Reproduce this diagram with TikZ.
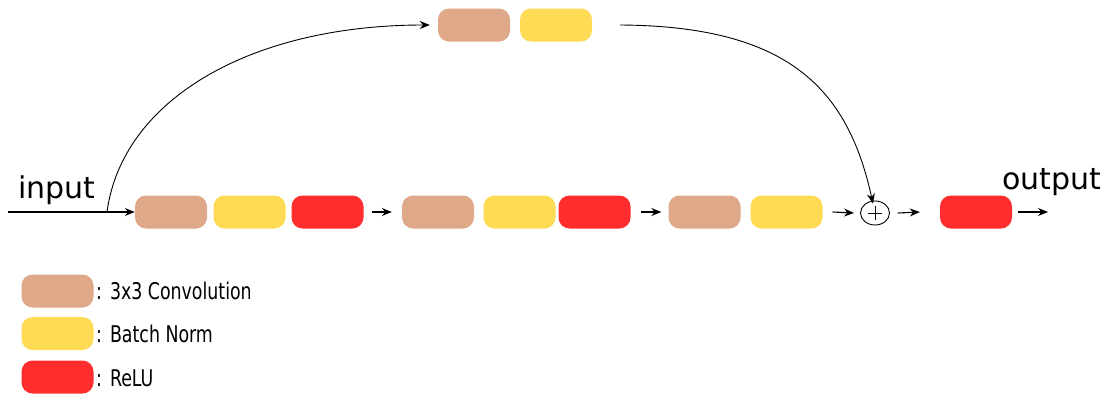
\documentclass[tikz,border=0pt]{standalone}
\usepackage{fontspec}
\setmainfont{DejaVu Sans}
\newfontfamily\legfont[FakeStretch=0.84]{DejaVu Sans Condensed}
\usetikzlibrary{arrows.meta,shapes.geometric}
\definecolor{conv}{RGB}{222,168,137}
\definecolor{bn}{RGB}{255,219,85}
\definecolor{relu}{RGB}{255,45,45}
\tikzset{
  blk/.style={rounded corners=11pt,minimum width=72pt,minimum height=33pt,inner sep=0pt},
  convb/.style={blk,fill=conv},
  bnb/.style={blk,fill=bn},
  relub/.style={blk,fill=relu},
  arr/.style={-{Stealth[length=10pt,width=8pt]},line width=1.1pt,black},
  curv/.style={-{Stealth[length=10pt,width=8pt]},line width=0.9pt,black},
  lbl/.style={font=\fontsize{30}{34}\selectfont,inner sep=0pt},
  leg/.style={font=\legfont\fontsize{23}{26}\selectfont,inner sep=0pt,anchor=west}
}
\begin{document}
\begin{tikzpicture}[x=1pt,y=-1pt]
\useasboundingbox (0,0) rectangle (1118,394);
% main row
\coordinate (in0) at (8,212);
\coordinate (split) at (107,212);
\node[convb] (c1) at (171,212) {};
\node[bnb]   (b1) at (249.5,212) {};
\node[relub] (r1) at (327.5,212) {};
\node[convb] (c2) at (438,212) {};
\node[bnb]   (b2) at (519.5,212) {};
\node[relub] (r2) at (594.5,212) {};
\node[convb] (c3) at (704.5,212) {};
\node[bnb]   (b3) at (786.5,212) {};
\node[draw,ellipse,line width=0.9pt,minimum width=29pt,minimum height=24pt,inner sep=0pt] (plus) at (875,213) {};
\draw[line width=0.9pt] ([xshift=-7pt]plus.center) -- ([xshift=7pt]plus.center)
  ([yshift=-7pt]plus.center) -- ([yshift=7pt]plus.center);
\node[relub] (r3) at (976,212) {};
\coordinate (out) at (1048,212);
% top row
\node[convb] (c4) at (474,25) {};
\node[bnb]   (b4) at (556,25) {};
% labels
\node[lbl,anchor=base west] (tin) at (18,198) {input};
\node[lbl,anchor=base west] (tout) at (1002,189) {output};
% arrows
\draw[arr] (in0) -- (c1.west);
\draw[arr] ([xshift=8pt]r1.east) -- ([xshift=-10pt]c2.west);
\draw[arr] ([xshift=10pt]r2.east) -- ([xshift=-7pt]c3.west);
\draw[arr] ([xshift=10pt]b3.east) -- ([xshift=-6pt]plus.west);
\draw[arr] ([xshift=8pt]plus.east) -- ([xshift=-20pt]r3.west);
\draw[arr] ([xshift=6pt]r3.east) -- (out);
% curves
\draw[curv] (split) .. controls (122,100) and (250,25) .. ([xshift=-8pt]c4.west);
\coordinate (cs) at (620,25);
\draw[curv] (cs) .. controls (790,26) and (848,90) .. ([shift={(-2pt,-3pt)}]plus.north);
% legend
\node[convb] (lc) at (57.5,291) {};
\node[bnb]   (lb) at (57.5,333.5) {};
\node[relub] (lr) at (57.5,377) {};
\node[leg] (tc) at (96,291) {:\hspace{8pt}3x3 Convolution};
\node[leg] (tb) at (96,334) {:\hspace{8pt}Batch Norm};
\node[leg] (tr) at (96,378) {:\hspace{8pt}ReLU};
\end{tikzpicture}
\end{document}
